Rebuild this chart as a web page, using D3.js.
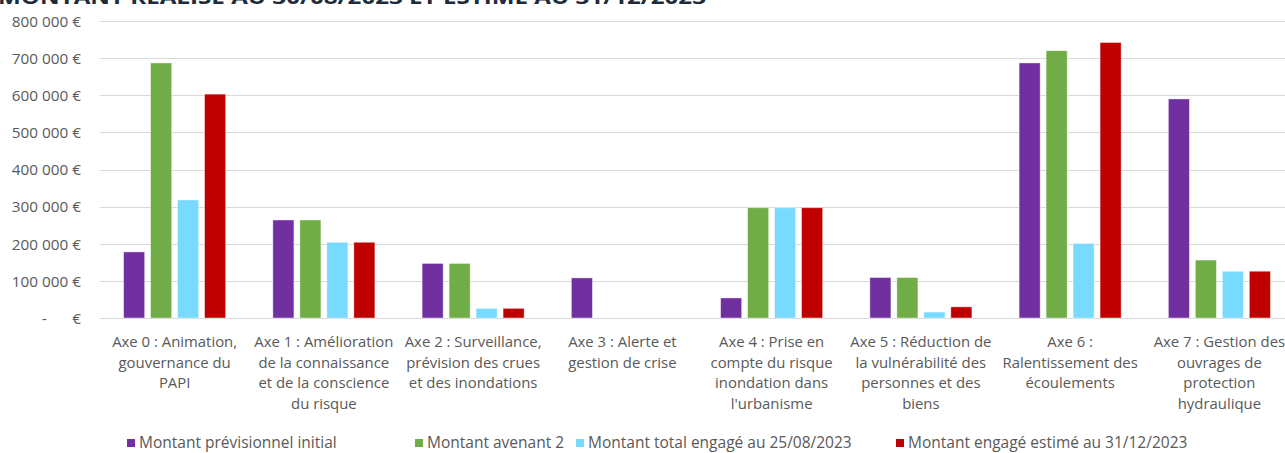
<!DOCTYPE html>
<html>
<head>
<meta charset="utf-8">
<script src="https://cdn.jsdelivr.net/npm/d3@7"></script>
<style>
html,body{margin:0;padding:0;background:#fff;}
svg{display:block;font-family:"Open Sans",Lato,sans-serif;}
</style>
</head>
<body>
<svg id="chart" width="1285" height="453"></svg>
<script>
const title = "MONTANT RÉALISÉ AU 30/08/2023 ET ESTIMÉ AU 31/12/2023";
const categories = [
  ["Axe 0 : Animation,", "gouvernance du", "PAPI"],
  ["Axe 1 : Amélioration", "de la connaissance", "et de la conscience", "du risque"],
  ["Axe 2 : Surveillance,", "prévision des crues", "et des inondations"],
  ["Axe 3 : Alerte et", "gestion de crise"],
  ["Axe 4 : Prise en", "compte du risque", "inondation dans", "l'urbanisme"],
  ["Axe 5 : Réduction de", "la vulnérabilité des", "personnes et des", "biens"],
  ["Axe 6 :", "Ralentissement des", "écoulements"],
  ["Axe 7 : Gestion des", "ouvrages de", "protection", "hydraulique"]
];
const seriesNames = [
  "Montant prévisionnel initial",
  "Montant avenant 2",
  "Montant total engagé au 25/08/2023",
  "Montant engagé estimé au 31/12/2023"
];
const previsionnel = [178000, 264000, 147000, 108000, 54000, 109000, 687000, 590000];
const avenant2     = [687000, 264000, 147000, 0, 297000, 109000, 720000, 156000];
const engage       = [318000, 204000, 26000, 0, 297000, 16000, 201000, 126000];
const estime       = [603000, 204000, 26000, 0, 297000, 30000, 742000, 126000];
const seriesValues = [previsionnel, avenant2, engage, estime];
const colors = ["#7030A0", "#70AD47", "#79DAFF", "#C00000"];
const yTicks = [0, 100000, 200000, 300000, 400000, 500000, 600000, 700000, 800000];

(function () {
const svg = d3.select("#chart");
const mLeft = 100, mRight = 1294, mTop = 21, mBottom = 318;
const textColor = "#595959";

const catIdx = categories.map((c, i) => i);
const x0 = d3.scaleBand().domain(catIdx).range([mLeft, mRight]).padding(0);
const x1 = d3.scaleBand().domain(d3.range(4)).range([0, x0.bandwidth()])
  .paddingInner(0.22).paddingOuter(0.875);
const y = d3.scaleLinear().domain([0, 800000]).range([mBottom, mTop]);

// title (cut at top, as in the reference)
svg.append("text")
  .attr("x", -2).attr("y", 4)
  .attr("textLength", 708).attr("lengthAdjust", "spacingAndGlyphs")
  .style("font-family", "'Open Sans',sans-serif")
  .style("font-weight", "bold").style("font-size", "20px")
  .style("fill", "#1E2B3A")
  .text(title);

// gridlines
svg.append("g").selectAll("line").data(yTicks).join("line")
  .attr("x1", mLeft).attr("x2", 1285)
  .attr("y1", d => Math.round(y(d)) + 0.5).attr("y2", d => Math.round(y(d)) + 0.5)
  .attr("stroke", "#D9D9D9").attr("stroke-width", 1);

// y axis labels
const fmt = v => v === 0 ? "" : d3.format(",")(v).replace(/,/g, "\u00a0") + "\u00a0€";
const yAxis = d3.axisLeft(y).tickValues(yTicks).tickSize(0).tickPadding(0).tickFormat(fmt);
const gy = svg.append("g").attr("transform", "translate(81,0)").call(yAxis);
gy.select(".domain").remove();
gy.selectAll("text")
  .style("font-family", "'Open Sans',sans-serif").style("font-size", "15.3px").style("fill", textColor)
  .attr("dy", "0.35em");
// zero label: accounting style "-   €"
gy.selectAll(".tick").filter(d => d === 0).each(function () {
  const t = d3.select(this).select("text");
  t.append("tspan").attr("x", -34).text("-");
  t.append("tspan").attr("x", 0).text("€");
});

// bars
const groups = svg.append("g").selectAll("g").data(catIdx).join("g")
  .attr("transform", d => `translate(${x0(d)},0)`);
groups.selectAll("rect")
  .data(ci => seriesValues.map((s, si) => ({si, v: s[ci]})).filter(d => d.v > 0))
  .join("rect")
  .attr("x", d => x1(d.si))
  .attr("width", x1.bandwidth())
  .attr("y", d => y(d.v))
  .attr("height", d => y(0) - y(d.v))
  .attr("fill", d => colors[d.si])
  .attr("stroke", "#ffffff").attr("stroke-opacity", 0.5).attr("stroke-width", 0.8);

// category labels
const xl = svg.append("g");
catIdx.forEach(ci => {
  const cx = x0(ci) + x0.bandwidth() / 2;
  const t = xl.append("text")
    .attr("x", cx)
    .attr("y", 347)
    .attr("text-anchor", "middle")
    .style("font-family", "'Open Sans',sans-serif").style("font-size", "14.9px").style("fill", textColor);
  categories[ci].forEach((line, li) => {
    t.append("tspan").attr("x", cx).attr("y", 347 + li * 20.7).text(line);
  });
});

// legend
const legendX = [127, 415, 576, 896];
const lg = svg.append("g").selectAll("g").data(seriesNames).join("g")
  .attr("transform", (d, i) => `translate(${legendX[i]},0)`);
lg.append("rect").attr("x", 0).attr("y", 439).attr("width", 8).attr("height", 8)
  .attr("fill", (d, i) => colors[i]);
lg.append("text").attr("x", 12).attr("y", 448)
  .style("font-family", "'Open Sans',sans-serif").style("font-size", "15.5px").style("fill", textColor)
  .text(d => d);
})();
</script>
</body>
</html>
